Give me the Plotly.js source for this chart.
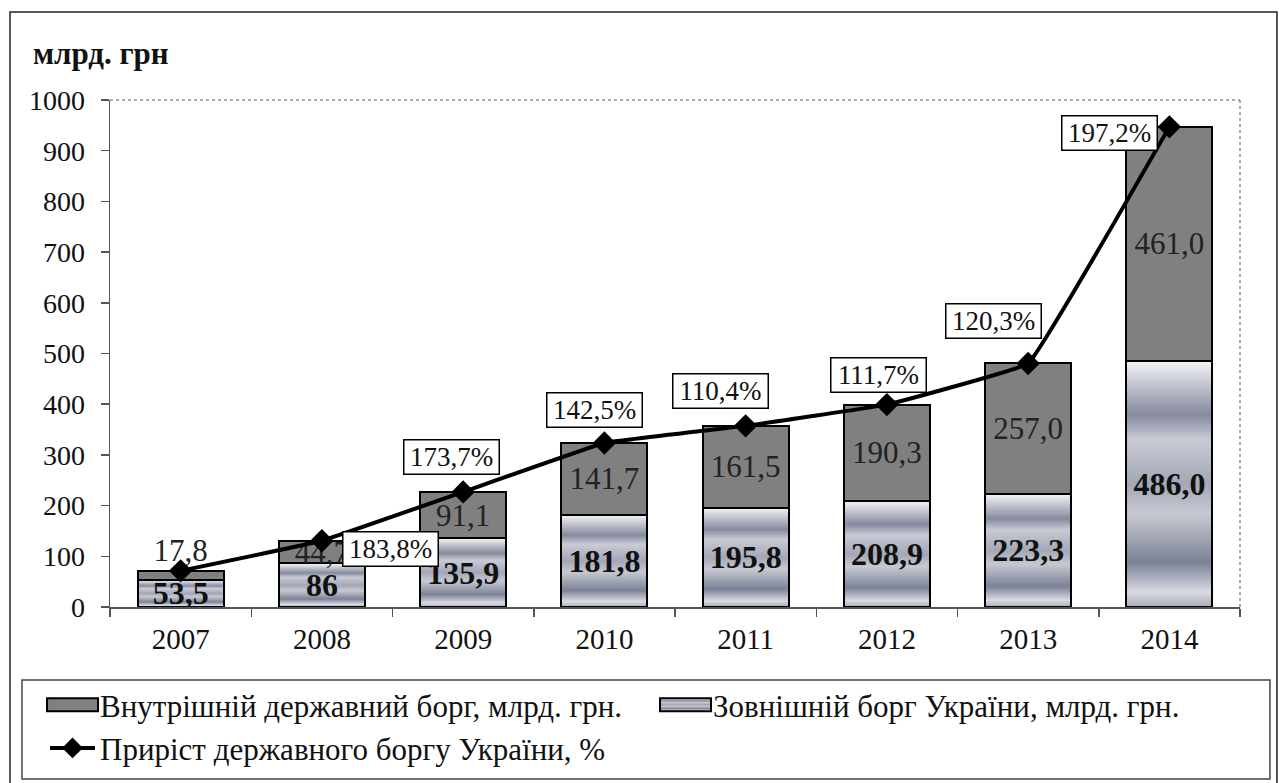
<!DOCTYPE html>
<html><head><meta charset="utf-8">
<script src="https://cdn.plot.ly/plotly-3.0.1.min.js"></script>
<style>html,body{margin:0;padding:0;background:#fff}#chart{width:1279px;height:783px}</style>
</head><body><div id="chart"></div>
<script>
const years = [2007, 2008, 2009, 2010, 2011, 2012, 2013, 2014];
const yearLabels = ['2007','2008','2009','2010','2011','2012','2013','2014'];
const externalDebt = [53.5, 86, 135.9, 181.8, 195.8, 208.9, 223.3, 486.0];
const externalLabels = ['53,5','86','135,9','181,8','195,8','208,9','223,3','486,0'];
const domesticDebt = [17.8, 44.7, 91.1, 141.7, 161.5, 190.3, 257.0, 461.0];
const domesticLabels = ['17,8','44,7','91,1','141,7','161,5','190,3','257,0','461,0'];
const totalDebt = [71.3, 130.7, 227.0, 323.5, 357.3, 399.2, 480.3, 947.0];
const growthLabels = [null,'183,8%','173,7%','142,5%','110,4%','111,7%','120,3%','197,2%'];
const yTickVals = [0,100,200,300,400,500,600,700,800,900,1000];
const yearBoundaries = [2006.5, 2007.5, 2008.5, 2009.5, 2010.5, 2011.5, 2012.5, 2013.5, 2014.5];

// styling (label box offsets in px relative to the line points)
const growthOffsets = [null,[69,-8],[-12,35],[-10,33],[-25,35],[-8,30],[-35,42],[-60,-6]];
const domesticTextPos = ['outside','inside','inside','inside','inside','inside','inside','inside'];

const FONT = '"Times New Roman", "Liberation Serif", "DejaVu Serif", serif';
const EXT_COLOR = 'rgb(201, 203, 214)';

const data = [
  {type:'bar', x:years, y:externalDebt, name:'Зовнішній борг України, млрд. грн.',
   marker:{color:EXT_COLOR, line:{color:'#000', width:2}},
   text:externalLabels, textposition:'inside', insidetextanchor:'middle', textangle:0,
   constraintext:'none', textfont:{family:FONT, size:32, color:'#111', weight:'bold'},
   legendrank:2, hoverinfo:'skip'},
  {type:'bar', x:years, y:domesticDebt, name:'Внутрішній державний борг, млрд. грн.',
   marker:{color:'#808080', line:{color:'#000', width:2}},
   text:domesticLabels, textposition:domesticTextPos, insidetextanchor:'middle', textangle:0,
   constraintext:'none', cliponaxis:false,
   textfont:{family:FONT, size:31, color:'#222'},
   legendrank:1, hoverinfo:'skip'},
  {type:'scatter', mode:'lines+markers', x:years, y:totalDebt, name:'Приріст державного боргу України, %',
   line:{color:'#000', width:4, shape:'spline', smoothing:0.18},
   marker:{symbol:'diamond', size:18, color:'#000'}, cliponaxis:false,
   legendrank:3, hoverinfo:'skip'}
];

const annotations = [];
years.forEach((yr,i) => {
  if (!growthLabels[i]) return;
  annotations.push({x:yr, y:totalDebt[i], xref:'x', yref:'y', showarrow:false,
    text:growthLabels[i], xshift:growthOffsets[i][0], yshift:growthOffsets[i][1],
    xanchor:'center', yanchor:'middle', font:{family:FONT, size:27, color:'#111'},
    bgcolor:'#fff', bordercolor:'#000', borderwidth:1.5, borderpad:1, width:92, height:31});
});

const layout = {
  width:1279, height:783,
  margin:{l:110, r:39, t:100, b:176, autoexpand:false},
  paper_bgcolor:'#fff', plot_bgcolor:'#fff',
  font:{family:FONT, size:28, color:'#111'},
  title:{text:'<b>млрд. грн</b>', x:0.0258, xref:'container', xanchor:'left',
         y:0.932, yref:'container', yanchor:'middle', font:{family:FONT, size:31, color:'#111'}},
  barmode:'stack', bargap:0.39,
  xaxis:{range:[2006.5, 2014.5], tickvals:years, ticktext:yearLabels,
         tickfont:{family:FONT, size:29, color:'#111'}, showline:true, ticklabelstandoff:6,
         linecolor:'#555', linewidth:1.5, ticks:'', showgrid:false, zeroline:false, fixedrange:true,
         minor:{tickvals:yearBoundaries, ticks:'outside', ticklen:8, tickcolor:'#555', tickwidth:1.5, showgrid:false}},
  yaxis:{range:[0,1000], tickvals:yTickVals, tickfont:{family:FONT, size:28, color:'#111'},
         showline:true, linecolor:'#555', linewidth:1.5, ticks:'outside', ticklen:8, ticklabelstandoff:10,
         tickcolor:'#555', tickwidth:1.5, showgrid:false, zeroline:false, fixedrange:true},
  showlegend:true,
  legend:{orientation:'h', x:-0.0575, xanchor:'left', y:-0.140, yanchor:'top', traceorder:'normal',
          font:{family:FONT, size:31, color:'#111'}, entrywidth:553, entrywidthmode:'pixels',
          bgcolor:'rgba(0,0,0,0)', borderwidth:0, itemwidth:45, tracegroupgap:0},
  annotations:annotations,
  shapes:[
    {type:'rect', xref:'paper', yref:'paper', x0:-0.0885, x1:1.0327, y0:-0.40, y1:1.1736,
     line:{color:'#222', width:1.5}, fillcolor:'rgba(0,0,0,0)', layer:'below'},
    {type:'rect', xref:'paper', yref:'paper', x0:-0.0779, x1:1.0265, y0:-0.3393, y1:-0.144,
     line:{color:'#444', width:1.5}, fillcolor:'rgba(0,0,0,0)', layer:'below'},
    {type:'line', xref:'paper', yref:'paper', x0:0, x1:1, y0:1, y1:1, line:{color:'#555', width:1, dash:'dot'}},
    {type:'line', xref:'paper', yref:'paper', x0:1, x1:1, y0:0, y1:1, line:{color:'#555', width:1, dash:'dot'}}
  ]
};

const gradStops = [[0,'#f6f6f8'],[0.22,'#858a9e'],[0.32,'#c9cbd4'],[0.5,'#a3a7b6'],[0.62,'#c6c8d1'],[0.82,'#7c8297'],[0.94,'#dadbe2'],[1,'#a9acb9']];

Plotly.newPlot('chart', data, layout, {staticPlot:true}).then(gd => {
  const ns = 'http://www.w3.org/2000/svg';
  const svg = gd.querySelector('svg.main-svg');
  let defs = svg.querySelector('defs');
  if (!defs) { defs = document.createElementNS(ns,'defs'); svg.insertBefore(defs, svg.firstChild); }
  const grad = document.createElementNS(ns,'linearGradient');
  grad.setAttribute('id','extGrad');
  grad.setAttribute('x1','0'); grad.setAttribute('y1','0'); grad.setAttribute('x2','0'); grad.setAttribute('y2','1');
  gradStops.forEach(([o,c]) => { const s = document.createElementNS(ns,'stop'); s.setAttribute('offset',o); s.setAttribute('stop-color',c); grad.appendChild(s); });
  defs.appendChild(grad);
  gd.querySelectorAll('path').forEach(p => { if (p.style.fill === EXT_COLOR) p.style.fill = 'url(#extGrad)'; });
  gd.querySelectorAll('.legend .legendpoints path').forEach(p => {
    const d = p.getAttribute('d') || '';
    if (/^M6,6H-6V-6H6Z$/.test(d)) p.setAttribute('d','M25.5,6.5H-25.5V-6.5H25.5Z');
  });
});
</script>
</body></html>
